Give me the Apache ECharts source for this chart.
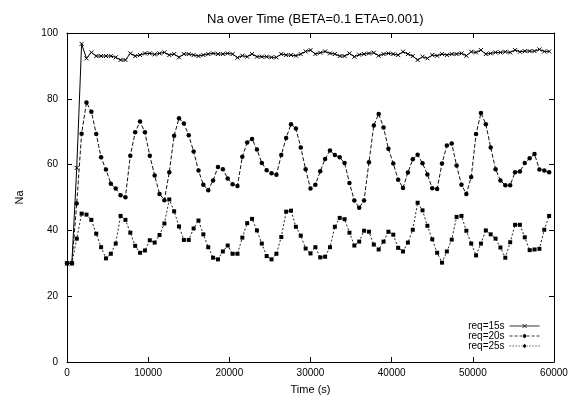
<!DOCTYPE html>
<html>
<head>
<meta charset="utf-8">
<script src="https://cdn.jsdelivr.net/npm/echarts@6/dist/echarts.min.js"></script>
<style>html,body{margin:0;padding:0;background:#fff}#chart{width:572px;height:400px}</style>
</head>
<body>
<div id="chart"></div>
<script>
const titleText = 'Na over Time (BETA=0.1 ETA=0.001)';
const xAxisName = 'Time (s)';
const yAxisName = 'Na';
const seriesNames = ['req=15s', 'req=20s', 'req=25s'];

const times = [0,600,1200,1800,2400,3000,3600,4200,4800,5400,
  6000,6600,7200,7800,8400,9000,9600,10200,10800,11400,
  12000,12600,13200,13800,14400,15000,15600,16200,16800,17400,
  18000,18600,19200,19800,20400,21000,21600,22200,22800,23400,
  24000,24600,25200,25800,26400,27000,27600,28200,28800,29400,
  30000,30600,31200,31800,32400,33000,33600,34200,34800,35400,
  36000,36600,37200,37800,38400,39000,39600,40200,40800,41400,
  42000,42600,43200,43800,44400,45000,45600,46200,46800,47400,
  48000,48600,49200,49800,50400,51000,51600,52200,52800,53400,
  54000,54600,55200,55800,56400,57000,57600,58200,58800,59400];

const req15 = [30,30,59,96.7,92.3,94.1,93.0,93.0,93.0,93.0,
  92.6,91.8,91.8,93.8,93.0,93.3,93.8,93.8,93.5,93.8,
  94.1,93.3,93.6,92.6,93.6,93.6,93.3,93.0,93.3,93.6,
  93.8,93.6,93.6,93.8,93.6,92.5,93.1,92.8,93.6,92.8,
  92.8,92.8,92.6,92.6,93.6,93.3,93.3,93.1,93.6,94.4,
  94.8,93.6,94.0,94.4,93.8,93.6,93.0,93.0,93.8,92.8,
  93.4,93.6,93.8,94.0,93.1,93.6,93.8,93.6,93.3,94.3,
  93.6,93.0,91.8,92.8,92.3,93.3,93.1,93.6,93.3,93.6,
  93.6,93.8,93.1,94.3,94.1,94.8,93.6,93.8,94.1,94.1,
  94.3,94.1,94.8,94.3,94.5,94.5,94.5,95.0,94.4,94.4];

const req20 = [30,30,48.2,69.4,78.9,76.1,69.3,62.2,58.5,54.2,
  52.7,50.7,50.1,62.7,69.8,73.1,69.8,62.7,56.7,51.1,
  49.2,57.7,68.8,74.1,72.5,68.9,64.0,58.2,53.9,52.2,
  55.2,59.3,58.6,55.8,54.0,53.5,62.4,66.7,67.8,64.6,
  60.5,58.3,57.4,56.9,62.9,68.1,72.3,71.0,65.2,58.6,
  52.7,53.9,58.0,61.7,64.3,62.9,62.2,60.5,54.4,49.1,
  46.9,49.1,60.7,71.9,75.4,71.3,64.8,60.3,55.4,52.9,
  57.6,61.6,63.0,60.4,57.0,52.8,52.6,60.3,65.8,66.4,
  59.7,53.9,51.1,56.2,69.3,75.7,72.3,65.2,58.6,55.2,
  53.7,53.7,57.7,57.9,60.5,61.9,63.2,58.5,58.2,57.7];

const req25 = [30,30,37.5,45.1,44.8,43.2,39.0,34.9,31.5,32.9,
  36.0,44.4,43.2,39.3,35.3,33.2,33.9,37.0,36.3,38.6,
  42.1,49.4,45.8,41.2,37.1,37.1,40.6,43.0,38.8,34.9,
  31.7,31.2,33.6,35.4,32.9,32.9,37.8,42.2,43.5,40.0,
  36.0,32.2,31.2,32.9,38.0,45.7,46.0,41.1,38.4,34.5,
  33.0,34.9,31.8,32.0,34.9,41.1,43.8,43.4,39.3,35.4,
  36.6,39.9,39.6,35.7,34.2,36.6,39.6,38.7,34.7,33.6,
  36.3,40.2,48.4,46.1,41.4,37.3,33.2,30.2,33.6,37.2,
  44.1,44.4,39.9,36.0,32.4,36.0,40.0,38.8,37.5,34.8,
  31.7,36.4,41.7,41.7,37.9,34.0,34.2,34.4,40.2,44.4];

const FONT = 'Liberation Sans, Arial, Helvetica, sans-serif';
function pairs(vals) { return times.map((t, i) => [t, vals[i]]); }

// legend sample glyphs (line + marker), 30x4 box
const legendIcons = [
  'path://M0,3L30,3M13,1L17,5M17,1L13,5',
  'path://M0,3L3,3M5,3L8,3M10,3L12.5,3M17.5,3L20,3M22,3L25,3M27,3L30,3M13.5,3A1.5,1.5,0,1,0,16.5,3A1.5,1.5,0,1,0,13.5,3ZM15,1L15,5',
  'path://M0,3L1.2,3M3,3L4.2,3M6,3L7.2,3M9,3L10.2,3M12,3L12.8,3M17.2,3L18,3M19.8,3L21,3M22.8,3L24,3M25.8,3L27,3M28.8,3L30,3M14,2L16,2L16,4L14,4ZM15,1L15,5'
];

const chart = echarts.init(document.getElementById('chart'), null, {renderer: 'canvas'});

const frameLine = {show: true, onZero: false, lineStyle: {color: '#000', width: 1}};
const tickIn = {show: true, inside: true, length: 5, lineStyle: {color: '#000', width: 1}};

chart.setOption({
  animation: false,
  backgroundColor: '#fff',
  title: {
    text: titleText, left: 202, top: 8,
    textStyle: {fontFamily: FONT, fontSize: 13, fontWeight: 'normal', color: '#000'}
  },
  grid: {left: 67, right: 18, top: 33, bottom: 37, containLabel: false},
  legend: {
    orient: 'vertical', right: 32, top: 321, align: 'right', padding: 0,
    itemWidth: 30, itemHeight: 4, itemGap: 0,
    itemStyle: {color: '#000', borderColor: '#000', borderWidth: 0.8},
    textStyle: {fontFamily: FONT, fontSize: 10, color: '#000', lineHeight: 8},
    data: seriesNames.map((n, i) => ({name: n, icon: legendIcons[i]}))
  },
  xAxis: [{
    type: 'value', min: 0, max: 60000, interval: 10000, position: 'bottom',
    name: xAxisName, nameLocation: 'middle', nameGap: 22,
    nameTextStyle: {fontFamily: FONT, fontSize: 11, color: '#000'},
    axisLine: frameLine, axisTick: tickIn, splitLine: {show: false},
    axisLabel: {fontFamily: FONT, fontSize: 10, color: '#000', margin: 6,
      formatter: function (v) { return String(v); }}
  }, {
    type: 'value', min: 0, max: 60000, interval: 10000, position: 'top',
    axisLine: frameLine, axisTick: tickIn, splitLine: {show: false},
    axisLabel: {show: false}
  }],
  yAxis: [{
    type: 'value', min: 0, max: 100, interval: 20, position: 'left',
    name: yAxisName, nameLocation: 'middle', nameGap: 42, nameRotate: 90,
    nameTextStyle: {fontFamily: FONT, fontSize: 11, color: '#000'},
    axisLine: frameLine, axisTick: tickIn, splitLine: {show: false},
    axisLabel: {fontFamily: FONT, fontSize: 10, color: '#000', margin: 9}
  }, {
    type: 'value', min: 0, max: 100, interval: 20, position: 'right',
    axisLine: frameLine, axisTick: tickIn, splitLine: {show: false},
    axisLabel: {show: false}
  }],
  series: [{
    name: seriesNames[0], type: 'line', data: pairs(req15),
    xAxisIndex: 0, yAxisIndex: 0,
    symbol: 'path://M0,0L10,10M10,0L0,10', symbolSize: 4, showAllSymbol: true,
    lineStyle: {color: '#000', width: 1, type: 'solid'},
    itemStyle: {color: '#000', borderColor: '#000', borderWidth: 1}
  }, {
    name: seriesNames[1], type: 'line', data: pairs(req20),
    xAxisIndex: 0, yAxisIndex: 0,
    symbol: 'circle', symbolSize: 4.5, showAllSymbol: true,
    lineStyle: {color: '#111', width: 1, type: [4, 2]},
    itemStyle: {color: '#000'}
  }, {
    name: seriesNames[2], type: 'line', data: pairs(req25),
    xAxisIndex: 0, yAxisIndex: 0,
    symbol: 'rect', symbolSize: 4, showAllSymbol: true,
    lineStyle: {color: '#222', width: 1, type: [2, 2]},
    itemStyle: {color: '#000'}
  }]
});
</script>
</body>
</html>
